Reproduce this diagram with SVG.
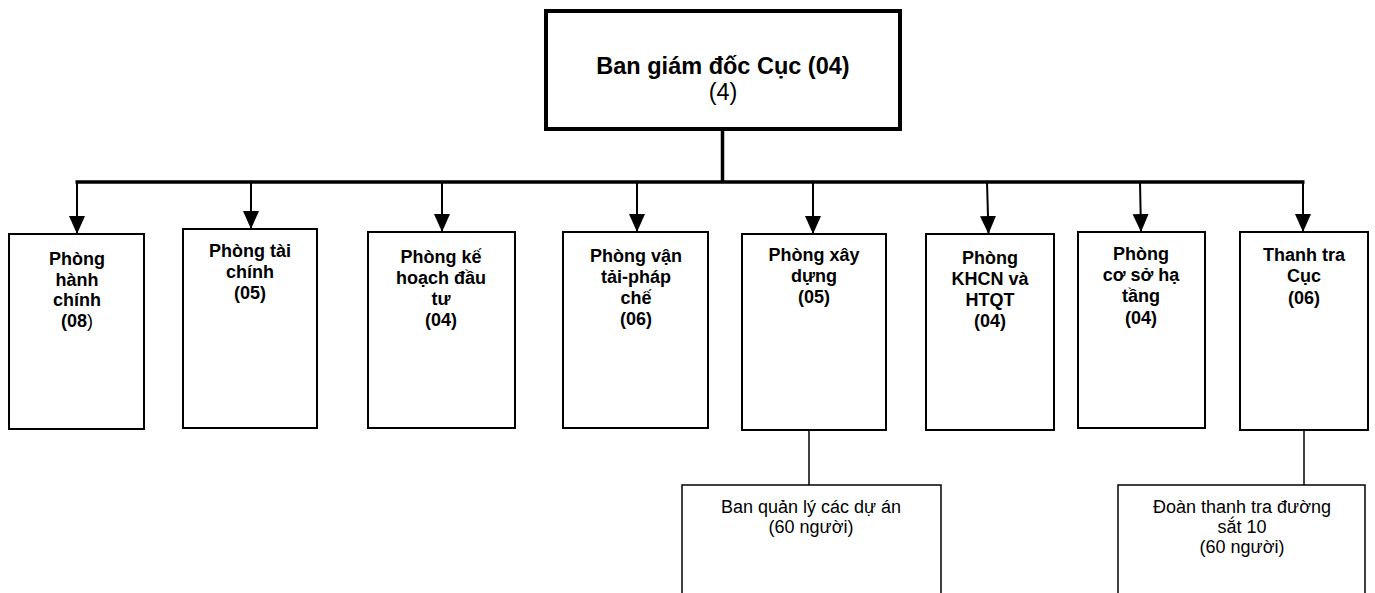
<svg xmlns="http://www.w3.org/2000/svg" width="1375" height="593" viewBox="0 0 1375 593">
  <style>
    .bg { fill: #ffffff; }
    .head { fill: #ffffff; stroke: #000000; stroke-width: 4; }
    .unit { fill: #ffffff; stroke: #000000; stroke-width: 2; }
    .sub { fill: #ffffff; stroke: #000000; stroke-width: 1.5; }
    .bus { fill: none; stroke: #000000; stroke-width: 3.5; }
    .drop { fill: none; stroke: #000000; stroke-width: 2; }
    .thin { fill: none; stroke: #000000; stroke-width: 1.5; }
    text { font-family: "Liberation Sans", Arial, sans-serif; fill: #000000; text-anchor: middle; }
    .t-head { font-size: 23.5px; font-weight: bold; }
    .t-head-n { font-size: 23.5px; font-weight: normal; }
    .t-unit { font-size: 18px; font-weight: bold; }
    .t-sub { font-size: 18px; font-weight: normal; }
  </style>
  <defs>
    <marker id="arrow" markerUnits="userSpaceOnUse" markerWidth="18" markerHeight="18" viewBox="0 0 18 18" refX="18" refY="9" orient="auto">
      <path d="M0,1 L18,9 L0,17 Z" fill="#000000"/>
    </marker>
  </defs>

  <rect class="bg" x="0" y="0" width="1375" height="593"/>

  <!-- Connectors -->
  <g id="connectors">
    <line class="bus" x1="722.5" y1="131" x2="722.5" y2="183"/>
    <line class="bus" x1="75.5" y1="182" x2="1304.5" y2="182"/>
    <line class="drop" x1="77" y1="182" x2="77" y2="234" marker-end="url(#arrow)"/>
    <line class="drop" x1="251" y1="182" x2="251" y2="229" marker-end="url(#arrow)"/>
    <line class="drop" x1="442" y1="182" x2="442" y2="232" marker-end="url(#arrow)"/>
    <line class="drop" x1="637" y1="182" x2="637" y2="232" marker-end="url(#arrow)"/>
    <line class="drop" x1="813" y1="182" x2="813" y2="234" marker-end="url(#arrow)"/>
    <line class="drop" x1="987" y1="182" x2="988.5" y2="234" marker-end="url(#arrow)"/>
    <line class="drop" x1="1140" y1="182" x2="1141" y2="232" marker-end="url(#arrow)"/>
    <line class="drop" x1="1303" y1="182" x2="1303" y2="232" marker-end="url(#arrow)"/>
    <line class="thin" x1="809" y1="430" x2="809" y2="485"/>
    <line class="thin" x1="1304" y1="430" x2="1304" y2="485"/>
  </g>

  <!-- Directorate -->
  <g id="ban-giam-doc">
    <rect class="head" x="546" y="11" width="354" height="118"/>
    <text class="t-head" x="723" y="74">Ban giám đốc Cục (04)</text>
    <text class="t-head-n" x="723" y="100">(4)</text>
  </g>

  <!-- Departments -->
  <g id="phong-hanh-chinh">
    <rect class="unit" x="9" y="234" width="135" height="195"/>
    <text class="t-unit" x="77" y="265">Phòng</text>
    <text class="t-unit" x="77" y="286">hành</text>
    <text class="t-unit" x="77" y="306">chính</text>
    <text class="t-unit" x="77" y="327">(08<tspan font-weight="normal">)</tspan></text>
  </g>

  <g id="phong-tai-chinh">
    <rect class="unit" x="183" y="229" width="134" height="199"/>
    <text class="t-unit" x="250" y="257">Phòng tài</text>
    <text class="t-unit" x="250" y="278">chính</text>
    <text class="t-unit" x="250" y="299">(05)</text>
  </g>

  <g id="phong-ke-hoach">
    <rect class="unit" x="368" y="232" width="147" height="196"/>
    <text class="t-unit" x="441" y="263">Phòng kế</text>
    <text class="t-unit" x="441" y="284">hoạch đầu</text>
    <text class="t-unit" x="441" y="305">tư</text>
    <text class="t-unit" x="441" y="326">(04)</text>
  </g>

  <g id="phong-van-tai">
    <rect class="unit" x="563" y="232" width="145" height="196"/>
    <text class="t-unit" x="636" y="262">Phòng vận</text>
    <text class="t-unit" x="636" y="283">tải-pháp</text>
    <text class="t-unit" x="636" y="304">chế</text>
    <text class="t-unit" x="636" y="325">(06)</text>
  </g>

  <g id="phong-xay-dung">
    <rect class="unit" x="742" y="234" width="144" height="196"/>
    <text class="t-unit" x="814" y="261">Phòng xây</text>
    <text class="t-unit" x="814" y="282">dựng</text>
    <text class="t-unit" x="814" y="303">(05)</text>
  </g>

  <g id="phong-khcn">
    <rect class="unit" x="926" y="234" width="128" height="196"/>
    <text class="t-unit" x="990" y="264">Phòng</text>
    <text class="t-unit" x="990" y="285">KHCN và</text>
    <text class="t-unit" x="990" y="306">HTQT</text>
    <text class="t-unit" x="990" y="327">(04)</text>
  </g>

  <g id="phong-co-so-ha-tang">
    <rect class="unit" x="1078" y="232" width="127" height="196"/>
    <text class="t-unit" x="1141" y="260">Phòng</text>
    <text class="t-unit" x="1141" y="281">cơ sở hạ</text>
    <text class="t-unit" x="1141" y="302">tầng</text>
    <text class="t-unit" x="1141" y="324">(04)</text>
  </g>

  <g id="thanh-tra-cuc">
    <rect class="unit" x="1240" y="232" width="128" height="198"/>
    <text class="t-unit" x="1304" y="261">Thanh tra</text>
    <text class="t-unit" x="1304" y="282">Cục</text>
    <text class="t-unit" x="1304" y="304">(06)</text>
  </g>

  <!-- Subordinate units -->
  <g id="ban-quan-ly-du-an">
    <rect class="sub" x="682" y="485" width="259" height="120"/>
    <text class="t-sub" x="811" y="513">Ban quản lý các dự án</text>
    <text class="t-sub" x="811" y="533">(60 người)</text>
  </g>

  <g id="doan-thanh-tra">
    <rect class="sub" x="1118" y="485" width="247" height="120"/>
    <text class="t-sub" x="1242" y="513">Đoàn thanh tra đường</text>
    <text class="t-sub" x="1242" y="533">sắt 10</text>
    <text class="t-sub" x="1242" y="553">(60 người)</text>
  </g>
</svg>
